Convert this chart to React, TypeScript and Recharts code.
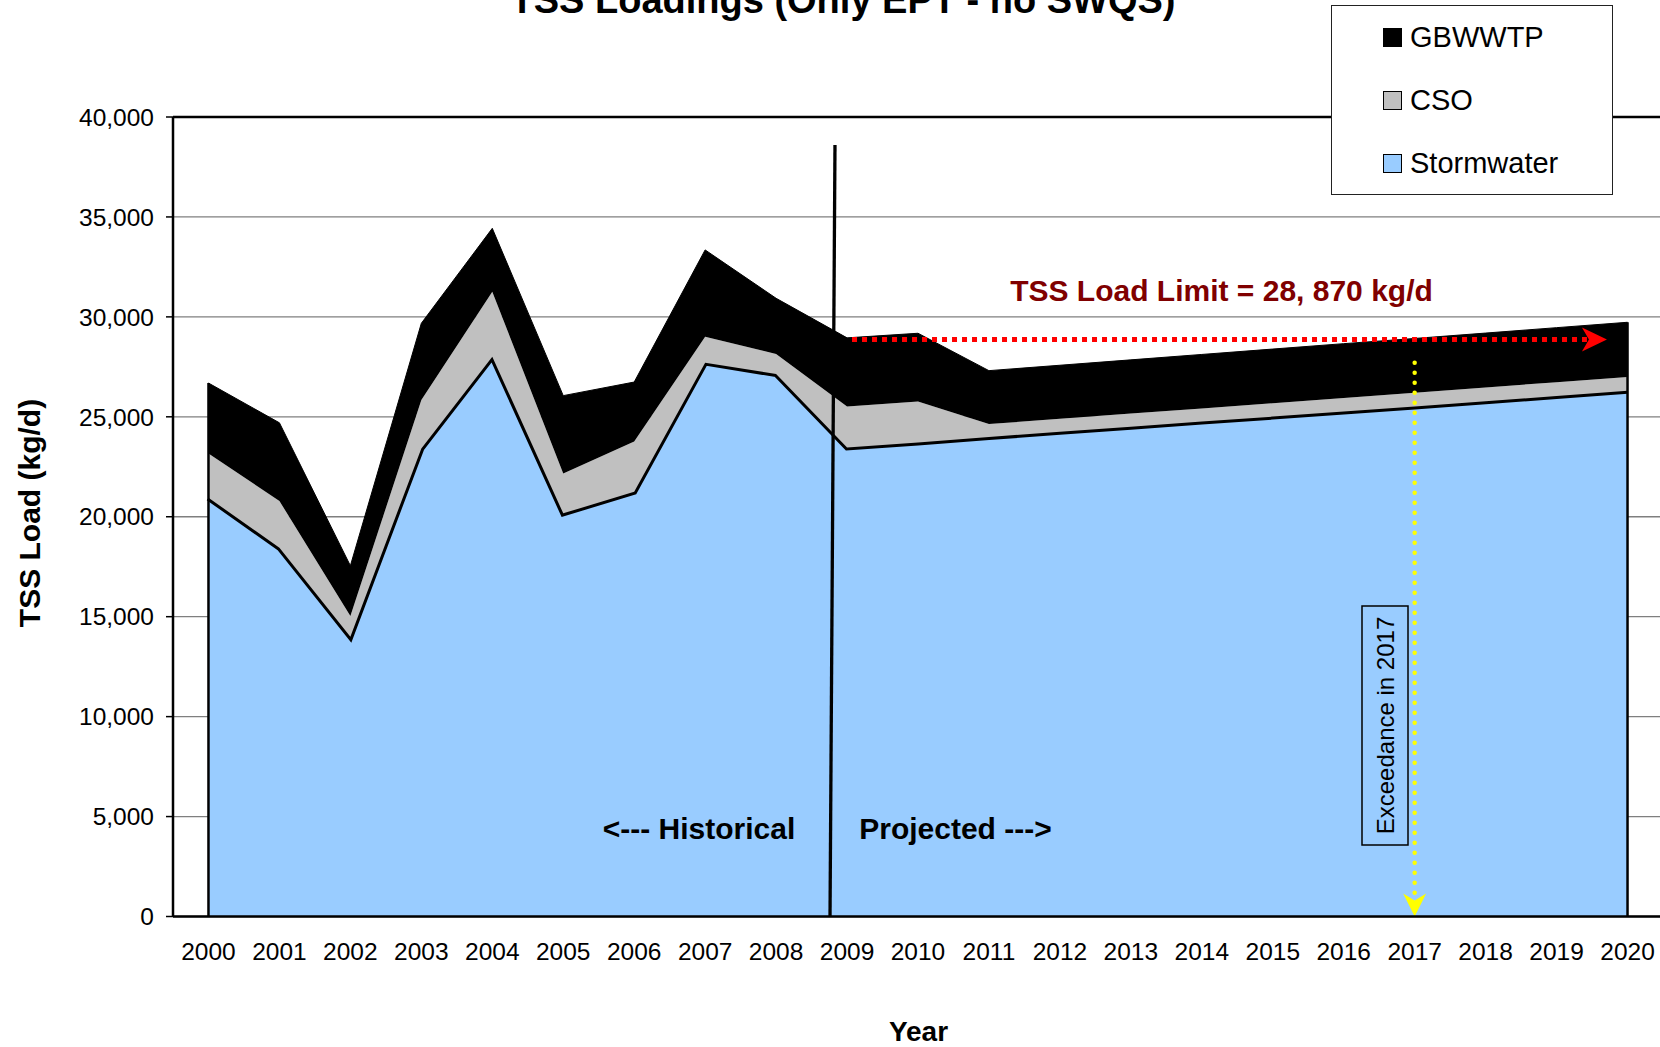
import React from 'react';
import { AreaChart, Area, XAxis, YAxis, CartesianGrid, ReferenceLine, Legend } from 'recharts';

const FONT = '"Liberation Sans", Arial, Helvetica, sans-serif';

// ---- data ----
const years = [2000, 2001, 2002, 2003, 2004, 2005, 2006, 2007, 2008, 2009, 2010, 2011, 2012, 2013, 2014, 2015, 2016, 2017, 2018, 2019, 2020];
const stormwater = [20950, 18450, 14000, 23420, 28010, 20170, 21250, 27710, 27140, 23470, 23710, 23990, 24250, 24500, 24760, 25010, 25270, 25520, 25780, 26040, 26300];
const cso = [2220, 2340, 1030, 2420, 3250, 2000, 2510, 1300, 1000, 2040, 2050, 650, 650, 660, 660, 670, 670, 680, 690, 690, 690];
const gbwwtp = [3520, 3910, 2520, 3840, 3170, 3890, 2980, 4340, 2790, 3440, 3420, 2670, 2680, 2690, 2700, 2710, 2720, 2720, 2720, 2730, 2740];
const yTicks = [0, 5000, 10000, 15000, 20000, 25000, 30000, 35000, 40000];
const legendNames = ['GBWWTP', 'CSO', 'Stormwater'];
const legendColors = ['#000000', '#C0C0C0', '#99CCFF'];

// annotations (data coordinates)
const loadLimit = 28870;
const limitStartYear = 2009.07;
const limitEndYear = 2019.71;
const exceedanceYear = 2017;
const exceedanceTop = 27700;
const dividerBottom = { x: 2008.76, y: 0 };
const dividerTop = { x: 2008.83, y: 38600 };

const edges = [...years.map((y) => y - 0.5), years[years.length - 1] + 0.5];
const xDomain = [edges[0], edges[edges.length - 1]];

const data = years.map((year, i) => ({
  year,
  Stormwater: stormwater[i],
  CSO: cso[i],
  GBWWTP: gbwwtp[i],
}));

const last = years.length - 1;
const totalFirst = stormwater[0] + cso[0] + gbwwtp[0];
const totalLast = stormwater[last] + cso[last] + gbwwtp[last];

const makeSolid = (w: number) => (props: any) => {
  const { x1, y1, x2, y2 } = props;
  return <line x1={x1} y1={y1} x2={x2} y2={y2} stroke="#000" strokeWidth={w} />;
};
const SolidThick = makeSolid(3.3);
const SolidEdge = makeSolid(2.5);

const RedArrow = (props: any) => {
  const { x1, y1, x2, y2 } = props;
  const tip = Math.max(x1, x2);
  const start = Math.min(x1, x2);
  const y = (y1 + y2) / 2;
  return (
    <g>
      <line x1={start} y1={y} x2={tip - 20} y2={y} stroke="#FF0000" strokeWidth={5} strokeDasharray="5 5" />
      <polygon points={`${tip},${y} ${tip - 25},${y - 12} ${tip - 18},${y} ${tip - 25},${y + 12}`} fill="#FF0000" />
    </g>
  );
};

const YellowArrow = (props: any) => {
  const { x1, y1, x2, y2 } = props;
  const x = (x1 + x2) / 2;
  const top = Math.min(y1, y2);
  const bottom = Math.max(y1, y2);
  return (
    <g>
      <line x1={x} y1={top} x2={x} y2={bottom - 20} stroke="#FFFF00" strokeWidth={4.5} strokeDasharray="0 10" strokeLinecap="round" />
      <polygon points={`${x},${bottom} ${x - 11.5},${bottom - 23} ${x},${bottom - 16} ${x + 11.5},${bottom - 23}`} fill="#FFFF00" />
    </g>
  );
};

const rowCenters = [31, 94, 157];

const LegendBox = () => (
  <div
    style={{
      width: 282,
      height: 190,
      boxSizing: 'border-box',
      border: '1.5px solid #222',
      background: '#fff',
      position: 'relative',
      fontFamily: FONT,
      color: '#000',
    }}
  >
    {legendNames.map((name, i) => (
      <div
        key={name}
        style={{
          position: 'absolute',
          left: 51,
          top: rowCenters[i] - 16,
          height: 32,
          display: 'flex',
          alignItems: 'center',
        }}
      >
        <span
          style={{
            display: 'inline-block',
            width: 19,
            height: 19,
            boxSizing: 'border-box',
            border: '1.5px solid #000',
            background: legendColors[i],
            marginRight: 8,
          }}
        />
        <span style={{ fontSize: 29, lineHeight: '32px' }}>{name}</span>
      </div>
    ))}
  </div>
);

export default function App() {
  return (
    <div style={{ position: 'absolute', left: 0, top: 0, width: 1660, height: 1047, background: '#fff', fontFamily: FONT, overflow: 'hidden' }}>
      <AreaChart
        width={1660}
        height={1047}
        data={data}
        margin={{ top: 117, right: -3, bottom: 128.5, left: 73 }}
      >
        <CartesianGrid vertical={false} stroke="#7f7f7f" strokeWidth={1.3} />
        <Area type="linear" dataKey="Stormwater" stackId="1" xAxisId="lab" fill="#99CCFF" fillOpacity={1} stroke="#000" strokeWidth={6} isAnimationActive={false} />
        <Area type="linear" dataKey="CSO" stackId="1" xAxisId="lab" fill="#C0C0C0" fillOpacity={1} stroke="none" isAnimationActive={false} />
        <Area type="linear" dataKey="GBWWTP" stackId="1" xAxisId="lab" fill="#000000" fillOpacity={1} stroke="#000" strokeWidth={1} isAnimationActive={false} />
        <ReferenceLine y={40000} xAxisId="lab" stroke="#000" strokeWidth={2.5} ifOverflow="visible" />
        <ReferenceLine
          xAxisId="lab"
          segment={[{ x: years[0], y: 0 }, { x: years[0], y: totalFirst }]}
          shape={SolidEdge}
          ifOverflow="visible"
        />
        <ReferenceLine
          xAxisId="lab"
          segment={[{ x: years[last], y: 0 }, { x: years[last], y: totalLast }]}
          shape={SolidEdge}
          ifOverflow="visible"
        />
        <ReferenceLine
          xAxisId="lab"
          segment={[dividerBottom, dividerTop]}
          shape={SolidThick}
          ifOverflow="visible"
        />
        <ReferenceLine
          xAxisId="lab"
          segment={[{ x: limitStartYear, y: loadLimit }, { x: limitEndYear, y: loadLimit }]}
          shape={RedArrow}
          ifOverflow="visible"
        />
        <ReferenceLine
          xAxisId="lab"
          segment={[{ x: exceedanceYear, y: exceedanceTop }, { x: exceedanceYear, y: 0 }]}
          shape={YellowArrow}
          ifOverflow="visible"
        />
        <XAxis
          type="number"
          dataKey="year"
          domain={xDomain}
          ticks={edges}
          interval={0}
          tick={false}
          tickSize={7}
          height={1}
          axisLine={{ stroke: '#000', strokeWidth: 2.5 }}
          tickLine={{ stroke: '#000', strokeWidth: 1.5 }}
          allowDataOverflow
        />
        <XAxis
          xAxisId="lab"
          type="number"
          dataKey="year"
          domain={xDomain}
          ticks={years}
          interval={0}
          tickSize={0}
          tickMargin={25}
          height={1}
          axisLine={false}
          tickLine={false}
          tickFormatter={(v: number) => String(v)}
          tick={{ fill: '#000', fontSize: 24.5, fontFamily: FONT }}
          allowDataOverflow
        />
        <YAxis
          type="number"
          domain={[0, 40000]}
          ticks={yTicks}
          interval={0}
          width={100}
          tickSize={7}
          tickMargin={12}
          axisLine={{ stroke: '#000', strokeWidth: 2.5 }}
          tickLine={{ stroke: '#000', strokeWidth: 1.5 }}
          tickFormatter={(v: number) => v.toLocaleString('en-US')}
          tick={{ fill: '#000', fontSize: 24.5, fontFamily: FONT }}
        />
        <Legend
          layout="vertical"
          align="center"
          verticalAlign="middle"
          content={() => <LegendBox />}
          wrapperStyle={{ left: 1331, top: 5, width: 282, height: 190 }}
        />
      </AreaChart>
      <svg
        width={1660}
        height={1047}
        style={{ position: 'absolute', left: 0, top: 0, pointerEvents: 'none', fontFamily: FONT }}
      >
        <text x={843} y={13} textAnchor="middle" fontWeight="bold" fontSize={38} fill="#000">
          TSS Loadings (Only EPT - no SWQS)
        </text>
        <text
          x={29}
          y={513}
          transform="rotate(-90, 29, 513)"
          textAnchor="middle"
          dominantBaseline="central"
          fontWeight="bold"
          fontSize={30}
          fill="#000"
        >
          TSS Load (kg/d)
        </text>
        <text x={918.5} y={1041} textAnchor="middle" fontWeight="bold" fontSize={28} fill="#000">
          Year
        </text>
        <text x={1221.5} y={300.5} textAnchor="middle" fontWeight="bold" fontSize={30} fill="#800000">
          TSS Load Limit = 28, 870 kg/d
        </text>
        <text x={699} y={839} textAnchor="middle" fontWeight="bold" fontSize={30} fill="#000">
          {'<--- Historical'}
        </text>
        <text x={955.5} y={839} textAnchor="middle" fontWeight="bold" fontSize={30} fill="#000">
          {'Projected --->'}
        </text>
        <rect x={1362} y={606} width={46} height={239} fill="none" stroke="#000" strokeWidth={1.5} />
        <text
          x={1385}
          y={725.5}
          transform="rotate(-90, 1385, 725.5)"
          textAnchor="middle"
          dominantBaseline="central"
          fontSize={24}
          fill="#000"
        >
          Exceedance in 2017
        </text>
      </svg>
    </div>
  );
}
